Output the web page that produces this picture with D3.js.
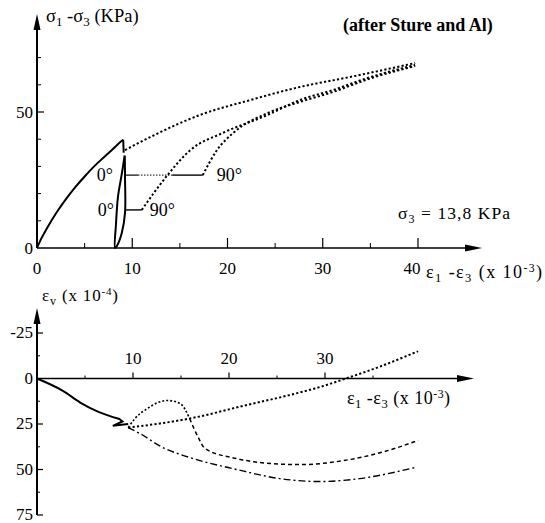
<!DOCTYPE html>
<html>
<head>
<meta charset="utf-8">
<script src="https://cdn.jsdelivr.net/npm/d3@7/dist/d3.min.js"></script>
<style>
  html, body { margin: 0; padding: 0; background: #fff; }
  text, tspan { font-family: "Liberation Serif", "DejaVu Serif", serif !important; }
</style>
</head>
<body>
<svg id="chart" width="545" height="523"></svg>
<script>
// ---------- upper panel: deviator stress vs. shear strain ----------
const topXTicks = [0, 10, 20, 30, 40];
const topXMinor = [5, 15, 25, 35];
const topYTicks = [0, 50];
const topYMinor = [10, 20, 30, 40, 60, 70];

// monotonic loading branch (solid)
const loadCurve = [[0, 0], [0.5, 3.8], [1, 7], [2, 12.8], [3, 17.8], [4, 22.3], [5, 26.3], [6, 30], [7, 33.3], [8, 36.5], [8.9, 39.4], [9.05, 39.8]];
// stress drop at the end of loading (solid)
const loadDrop = [[9.05, 39.8], [9.1, 35.0]];
// unload / reload loop (solid)
const loopCurve = [[9.2, 34], [8.92, 27.6], [8.5, 18.8], [8.3, 9.2], [8.2, 0], [8.4, 0.8], [8.9, 5.5], [9.24, 12.9], [9.24, 26], [9.22, 34]];
// continued loading after the loop, 0° (dotted)
const reloadA = [[9.24, 36.0], [11.9, 40.8], [17.1, 48.9], [22.4, 54.4], [27.6, 59.2], [32.9, 62.9], [36.3, 65.4], [39.7, 68.0]];
// after 90° rotation at the low stress level (dotted)
const reloadB = [[11.0, 14.0], [13.7, 26.8], [16.1, 36.0], [19.5, 42.3], [24.2, 48.9], [27.6, 54.4], [31.1, 58.1], [34.7, 62.5], [39.7, 67.3]];
// after 90° rotation at the high stress level (dotted)
const reloadC = [[17.4, 26.8], [18.9, 36.0], [20.6, 42.3], [24.2, 49.6], [27.6, 53.7], [31.1, 57.4], [34.7, 62.0], [39.7, 66.9]];
// rotation paths (horizontal)
const rotHigh = { y: 26.8, x0: 9.24, x1: 17.4 };
const rotLow = { y: 14.0, x0: 9.24, x1: 11.0 };

// ---------- lower panel: volumetric strain vs. shear strain ----------
const botXTicks = [10, 20, 30];
const botXMinor = [5, 15, 25, 35];
const botYTicks = [-25, 0, 25, 50, 75];
const botYMinor = [-12.5, 12.5, 37.5, 62.5];

const volLoad = [[0, 0], [2.7, 6.8], [4.5, 13.2], [6.4, 18.3], [8.6, 22.3]];
const volKink = [[8.6, 22.3], [8.9, 23.6], [7.9, 26.0], [9.5, 25.0]];
const volA = [[9.5, 27], [15.9, 22], [21.9, 14.5], [26.0, 9.5], [30.2, 3.5], [31.9, 0.5], [35.7, -6.5], [39.7, -15]];
const volBHump = [[9.5, 27], [10.2, 22], [11.5, 16.5], [12.6, 13.2], [13.6, 12.1], [14.9, 13.7], [15.9, 22]];
const volBTail = [[15.9, 22], [16.8, 32.4], [17.5, 38.5], [20.8, 44], [24.3, 46.7], [27.4, 47.3], [32.6, 44.5], [36.3, 40], [39.7, 34]];
const volC = [[9.5, 27], [10.7, 30.2], [13.1, 37.9], [15.9, 43.4], [20.8, 50], [25.3, 55], [29.5, 56.6], [33.6, 55], [39.3, 49]];

const FONT = "Liberation Serif, DejaVu Serif, serif";
const svg = d3.select("#chart");

const xT = d3.scaleLinear().domain([0, 40]).range([37, 418]);
const yT = d3.scaleLinear().domain([0, 50]).range([248, 112]);
const xB = d3.scaleLinear().domain([0, 40]).range([37, 421]);
const yB = d3.scaleLinear().domain([-25, 75]).range([333, 515]);

const smoothT = d3.line().x(d => xT(d[0])).y(d => yT(d[1])).curve(d3.curveMonotoneX);
const loopT = d3.line().x(d => xT(d[0])).y(d => yT(d[1])).curve(d3.curveCatmullRom.alpha(0.5));
const straightT = d3.line().x(d => xT(d[0])).y(d => yT(d[1]));
const smoothB = d3.line().x(d => xB(d[0])).y(d => yB(d[1])).curve(d3.curveMonotoneX);
const straightB = d3.line().x(d => xB(d[0])).y(d => yB(d[1]));

function arrow(g, x, y, dir) {
  // filled arrow head: dir "up" or "right"
  const p = dir === "up"
    ? [[x, y], [x - 3.5, y + 16], [x + 3.5, y + 16]]
    : [[x, y], [x - 17, y - 3.5], [x - 17, y + 3.5]];
  g.append("path").attr("d", "M" + p.map(q => q.join(",")).join("L") + "Z").attr("fill", "#000");
}

function txt(g, x, y, size) {
  return g.append("text").attr("x", x).attr("y", y).attr("font-size", size)
    .attr("font-family", FONT).style("font-family", FONT).attr("fill", "#000");
}

function strainTitle(g, x, y, size, width) {
  const t = txt(g, x, y, size).attr("textLength", width).attr("lengthAdjust", "spacing");
  t.append("tspan").text("ε");
  t.append("tspan").attr("dy", 4).attr("font-size", size * 0.7).text("1");
  t.append("tspan").attr("dy", -4).text(" -ε");
  t.append("tspan").attr("dy", 4).attr("font-size", size * 0.7).text("3");
  t.append("tspan").attr("dy", -4).text(" (x 10");
  t.append("tspan").attr("dy", -6).attr("font-size", size * 0.65).text("-3");
  t.append("tspan").attr("dy", 6).text(")");
}

// ===== upper panel axes =====
const gT = svg.append("g");
gT.append("line").attr("x1", 37).attr("x2", 37).attr("y1", yT(0)).attr("y2", 22).attr("stroke", "#000").attr("stroke-width", 2);
arrow(gT, 37, 14, "up");
gT.append("line").attr("x1", 37).attr("x2", 468).attr("y1", yT(0)).attr("y2", yT(0)).attr("stroke", "#000").attr("stroke-width", 1.3);
arrow(gT, 482, yT(0), "right");

gT.selectAll(".tyMaj").data(topYTicks.filter(v => v !== 0)).enter().append("line")
  .attr("x1", 37).attr("x2", 44).attr("y1", d => yT(d)).attr("y2", d => yT(d)).attr("stroke", "#000").attr("stroke-width", 1.2);
gT.selectAll(".tyMin").data(topYMinor).enter().append("line")
  .attr("x1", 37).attr("x2", 41).attr("y1", d => yT(d)).attr("y2", d => yT(d)).attr("stroke", "#000").attr("stroke-width", 1);
topYTicks.forEach(v => txt(gT, 33, yT(v) + 6, 17).attr("text-anchor", "end").text(v));

gT.selectAll(".txMaj").data(topXTicks.filter(v => v !== 0)).enter().append("line")
  .attr("x1", d => xT(d)).attr("x2", d => xT(d)).attr("y1", yT(0)).attr("y2", yT(0) - 10).attr("stroke", "#000").attr("stroke-width", 1.2);
gT.selectAll(".txMin").data(topXMinor).enter().append("line")
  .attr("x1", d => xT(d)).attr("x2", d => xT(d)).attr("y1", yT(0)).attr("y2", yT(0) - 5).attr("stroke", "#000").attr("stroke-width", 1);
topXTicks.forEach(v => txt(gT, xT(v) - (v === 40 ? 6 : 0), yT(0) + 26, 17).attr("text-anchor", "middle").text(v));

const yTitle = txt(gT, 46, 22, 18.5);
yTitle.append("tspan").text("σ");
yTitle.append("tspan").attr("dy", 4).attr("font-size", 13).text("1");
yTitle.append("tspan").attr("dy", -4).text(" -σ");
yTitle.append("tspan").attr("dy", 4).attr("font-size", 13).text("3");
yTitle.append("tspan").attr("dy", -4).text(" (KPa)");

strainTitle(gT, 426, 278, 18, 116);

txt(gT, 343, 31, 18).attr("font-weight", "bold").text("(after Sture and Al)");

const s3 = txt(gT, 398, 219, 17.5).attr("textLength", 112).attr("lengthAdjust", "spacing");
s3.append("tspan").text("σ");
s3.append("tspan").attr("dy", 4).attr("font-size", 12).text("3");
s3.append("tspan").attr("dy", -4).text(" = 13,8 KPa");

// curves
gT.append("path").attr("d", smoothT(loadCurve)).attr("fill", "none").attr("stroke", "#000").attr("stroke-width", 2);
gT.append("path").attr("d", straightT(loadDrop)).attr("fill", "none").attr("stroke", "#000").attr("stroke-width", 2);
gT.append("path").attr("d", loopT(loopCurve)).attr("fill", "none").attr("stroke", "#000").attr("stroke-width", 2);
[reloadA, reloadB, reloadC].forEach(c => {
  gT.append("path").attr("d", smoothT(c)).attr("fill", "none").attr("stroke", "#000")
    .attr("stroke-width", 2).attr("stroke-dasharray", "2.2,2.2");
});
gT.append("path").attr("d", straightT([[rotHigh.x0, rotHigh.y], [10.6, rotHigh.y]])).attr("stroke", "#000").attr("stroke-width", 1.2);
gT.append("path").attr("d", straightT([[10.6, rotHigh.y], [14.2, rotHigh.y]])).attr("stroke", "#000").attr("stroke-width", 1).attr("stroke-dasharray", "1.5,1.5");
gT.append("path").attr("d", straightT([[14.2, rotHigh.y], [rotHigh.x1, rotHigh.y]])).attr("stroke", "#000").attr("stroke-width", 1.4);
gT.append("path").attr("d", straightT([[rotLow.x0, rotLow.y], [rotLow.x1, rotLow.y]])).attr("stroke", "#000").attr("stroke-width", 1.4);

const angleLabels = [
  { t: "0°", x: rotHigh.x0, y: rotHigh.y, anchor: "end", dx: -12 },
  { t: "90°", x: rotHigh.x1, y: rotHigh.y, anchor: "start", dx: 14 },
  { t: "0°", x: rotLow.x0, y: rotLow.y, anchor: "end", dx: -11 },
  { t: "90°", x: rotLow.x1, y: rotLow.y, anchor: "start", dx: 8 }
];
angleLabels.forEach(d => txt(gT, xT(d.x) + d.dx, yT(d.y) + 6, 18).attr("text-anchor", d.anchor).text(d.t));

// ===== lower panel axes =====
const gB = svg.append("g");
gB.append("line").attr("x1", 37).attr("x2", 37).attr("y1", yB(75)).attr("y2", 318).attr("stroke", "#000").attr("stroke-width", 2);
arrow(gB, 37, 308, "up");
gB.append("line").attr("x1", 37).attr("x2", 462).attr("y1", yB(0)).attr("y2", yB(0)).attr("stroke", "#000").attr("stroke-width", 1.3);
arrow(gB, 474, yB(0), "right");

gB.selectAll(".byMaj").data(botYTicks.filter(v => v !== 0)).enter().append("line")
  .attr("x1", 37).attr("x2", 43).attr("y1", d => yB(d)).attr("y2", d => yB(d)).attr("stroke", "#000").attr("stroke-width", 1.2);
gB.selectAll(".byMin").data(botYMinor).enter().append("line")
  .attr("x1", 37).attr("x2", 40).attr("y1", d => yB(d)).attr("y2", d => yB(d)).attr("stroke", "#000").attr("stroke-width", 1);
botYTicks.forEach(v => txt(gB, 33, yB(v) + 5, 17).attr("text-anchor", "end").text(v));

gB.selectAll(".bxMaj").data(botXTicks).enter().append("line")
  .attr("x1", d => xB(d)).attr("x2", d => xB(d)).attr("y1", yB(0)).attr("y2", yB(0) - 6).attr("stroke", "#000").attr("stroke-width", 1.2);
gB.selectAll(".bxMin").data(botXMinor).enter().append("line")
  .attr("x1", d => xB(d)).attr("x2", d => xB(d)).attr("y1", yB(0)).attr("y2", yB(0) - 3).attr("stroke", "#000").attr("stroke-width", 1);
botXTicks.forEach(v => txt(gB, xB(v), yB(0) - 15, 17).attr("text-anchor", "middle").text(v));

const evTitle = txt(gB, 42, 301, 17).attr("textLength", 76).attr("lengthAdjust", "spacing");
evTitle.append("tspan").text("ε");
evTitle.append("tspan").attr("dy", 4).attr("font-size", 12).text("v");
evTitle.append("tspan").attr("dy", -4).text(" (x 10");
evTitle.append("tspan").attr("dy", -6).attr("font-size", 11).text("-4");
evTitle.append("tspan").attr("dy", 6).text(")");

strainTitle(gB, 347, 404, 18, 103);

gB.append("path").attr("d", smoothB(volLoad) + straightB(volKink).replace("M", "L"))
  .attr("fill", "none").attr("stroke", "#000").attr("stroke-width", 2);
gB.append("path").attr("d", smoothB(volA)).attr("fill", "none").attr("stroke", "#000").attr("stroke-width", 2).attr("stroke-dasharray", "2.2,2.2");
gB.append("path").attr("d", smoothB(volBHump)).attr("fill", "none").attr("stroke", "#000").attr("stroke-width", 1.6).attr("stroke-dasharray", "2,2");
gB.append("path").attr("d", smoothB(volBTail)).attr("fill", "none").attr("stroke", "#000").attr("stroke-width", 1.5).attr("stroke-dasharray", "4,3");
gB.append("path").attr("d", smoothB(volC)).attr("fill", "none").attr("stroke", "#000").attr("stroke-width", 1.4).attr("stroke-dasharray", "7,3,2,3");
</script>
</body>
</html>
